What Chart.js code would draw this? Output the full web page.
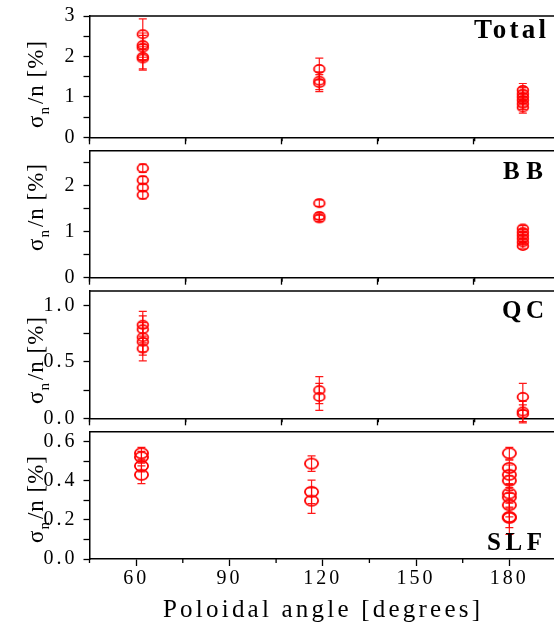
<!DOCTYPE html>
<html>
<head>
<meta charset="utf-8">
<script src="https://cdn.jsdelivr.net/npm/chart.js@4.4.0/dist/chart.umd.min.js"></script>
<style>
html, body { margin: 0; padding: 0; background: #fff; overflow: hidden; }
#wrap { position: relative; width: 554px; height: 631px; overflow: hidden; }
#wrap canvas { position: absolute; left: 0; top: 0; }
</style>
</head>
<body>
<div id="wrap">
  <canvas id="pTotal" width="580" height="631"></canvas>
  <canvas id="pBB" width="580" height="631"></canvas>
  <canvas id="pQC" width="580" height="631"></canvas>
  <canvas id="pSLF" width="580" height="631"></canvas>
</div>
<script>
// poloidal angles of the three views
const totalAngle = [61.6, 61.6, 61.6, 61.6, 61.6, 116.6, 116.6, 116.6, 180, 180, 180, 180, 180, 180];
const totalValue = [2.55, 2.28, 2.22, 1.99, 1.95, 1.69, 1.40, 1.34, 1.17, 1.08, 1.00, 0.92, 0.83, 0.74];
const totalError = [0.38, 0.30, 0.30, 0.30, 0.29, 0.27, 0.22, 0.21, 0.16, 0.15, 0.15, 0.15, 0.14, 0.14];

const bbAngle = [61.6, 61.6, 61.6, 61.6, 116.6, 116.6, 116.6, 180, 180, 180, 180, 180, 180];
const bbValue = [2.38, 2.12, 1.96, 1.80, 1.62, 1.34, 1.29, 1.07, 0.99, 0.92, 0.85, 0.77, 0.69];
const bbError = [0.09, 0.08, 0.08, 0.09, 0.07, 0.07, 0.07, 0.06, 0.06, 0.06, 0.06, 0.05, 0.05];

const qcAngle = [61.6, 61.6, 61.6, 61.6, 61.6, 116.6, 116.6, 180, 180, 180];
const qcValue = [0.83, 0.79, 0.72, 0.68, 0.62, 0.25, 0.19, 0.19, 0.06, 0.04];
const qcError = [0.12, 0.12, 0.13, 0.12, 0.11, 0.12, 0.12, 0.12, 0.09, 0.08];

const slfAngle = [61.7, 61.7, 61.7, 61.7, 116.4, 116.4, 116.4, 180, 180, 180, 180, 180, 180, 180, 180, 180];
const slfValue = [0.54, 0.52, 0.475, 0.43, 0.487, 0.343, 0.298, 0.54, 0.465, 0.43, 0.40, 0.335, 0.315, 0.275, 0.215, 0.21];
const slfError = [0.03, 0.03, 0.03, 0.045, 0.04, 0.06, 0.065, 0.03, 0.04, 0.05, 0.05, 0.05, 0.05, 0.06, 0.09, 0.05];

const xTitle = 'Poloidal angle [degrees]';

const FONT = '"Liberation Serif", "Times New Roman", serif';
const RED = '#ff0000';
const H = 631;

Chart.defaults.font.family = FONT;
Chart.defaults.font.size = 20;
Chart.defaults.color = '#000';

// open elliptic marker, like the origin circles
function ellipseMarker(w, h) {
    const c = document.createElement('canvas');
    c.width = w + 4;
    c.height = h + 4;
    const g = c.getContext('2d');
    g.strokeStyle = RED;
    g.lineWidth = 1.8;
    g.beginPath();
    g.ellipse(c.width / 2, c.height / 2, w / 2 - 0.9, h / 2 - 0.9, 0, 0, Math.PI * 2);
    g.stroke();
    return c;
}

const errorBars = {
    id: 'errorBars',
    afterDatasetsDraw(chart) {
        const ctx = chart.ctx;
        const ys = chart.scales.y;
        chart.data.datasets.forEach((ds, di) => {
            const meta = chart.getDatasetMeta(di);
            ctx.save();
            ctx.strokeStyle = 'rgba(255,0,0,0.9)';
            ctx.lineWidth = 1.2;
            meta.data.forEach((pt, i) => {
                const v = ds.data[i].y, e = ds.errors[i];
                const y1 = ys.getPixelForValue(v + e);
                const y2 = ys.getPixelForValue(v - e);
                ctx.beginPath();
                ctx.moveTo(pt.x, y1); ctx.lineTo(pt.x, y2);
                ctx.moveTo(pt.x - 4, y1); ctx.lineTo(pt.x + 4, y1);
                ctx.moveTo(pt.x - 4, y2); ctx.lineTo(pt.x + 4, y2);
                ctx.stroke();
            });
            ctx.restore();
        });
    }
};

// short minor ticks on the x axis, every 15 degrees between the majors
const minorTicks = {
    id: 'minorTicks',
    afterDraw(chart) {
        const xs = chart.scales.x;
        const ctx = chart.ctx;
        const bottom = chart.chartArea.bottom;
        ctx.save();
        ctx.strokeStyle = '#000';
        ctx.lineWidth = 1.3;
        ctx.beginPath();
        for (let v = 45; v <= xs.max; v += 30) {
            const px = xs.getPixelForValue(v);
            ctx.moveTo(px, bottom);
            ctx.lineTo(px, bottom + 4);
        }
        ctx.stroke();
        ctx.restore();
    }
};

const spacing = {
    id: 'spacing',
    beforeDraw(chart) { chart.ctx.letterSpacing = '3px'; }
};

function drawSpaced(ctx, text, x, y, width) {
    ctx.letterSpacing = '0px';
    const natural = ctx.measureText(text).width;
    const gap = (width - natural) / (text.length - 1);
    ctx.letterSpacing = gap + 'px';
    ctx.textAlign = 'left';
    ctx.fillText(text, x, y);
}

function decor(p) {
    return {
        id: 'decor',
        afterDraw(chart) {
            const ctx = chart.ctx;
            const a = chart.chartArea;
            ctx.save();
            // top and right frame lines
            ctx.strokeStyle = '#000';
            ctx.lineWidth = 1.5;
            ctx.beginPath();
            ctx.moveTo(a.left, a.top); ctx.lineTo(a.right, a.top); ctx.lineTo(a.right, a.bottom);
            ctx.stroke();

            ctx.fillStyle = '#000';
            ctx.textBaseline = 'alphabetic';
            // panel name
            ctx.font = 'bold ' + p.nameSize + 'px ' + FONT;
            drawSpaced(ctx, p.name, p.nameX, p.nameY, p.nameW);

            // y title  sigma_n / n [%]
            ctx.letterSpacing = '1px';
            ctx.translate(43, p.titleY);
            ctx.rotate(-Math.PI / 2);
            const big = '23px ' + FONT, small = '15px ' + FONT;
            ctx.font = big;
            const w1 = ctx.measureText('σ').width;
            const w3 = ctx.measureText('/n [%]').width;
            ctx.font = small;
            const w2 = ctx.measureText('n').width + 2;
            let x = -(w1 + w2 + w3) / 2;
            ctx.textAlign = 'left';
            ctx.font = big;
            ctx.fillText('σ', x, 0);
            x += w1;
            ctx.font = small;
            ctx.fillText('n', x, 6);
            x += w2;
            ctx.font = big;
            ctx.fillText('/n [%]', x, 0);
            ctx.restore();

            if (p.showX) {
                ctx.save();
                ctx.fillStyle = '#000';
                ctx.font = '25px ' + FONT;
                drawSpaced(ctx, xTitle, 163, 617, 317);
                ctx.restore();
            }
        }
    };
}

function panel(id, angle, value, error, p) {
    const xh = p.showX ? 42 : 7;
    return new Chart(document.getElementById(id), {
        type: 'scatter',
        data: {
            datasets: [{
                data: angle.map((a, i) => ({ x: a, y: value[i] })),
                errors: error,
                pointStyle: p.marker,
                pointRadius: 6,
                borderColor: RED,
                backgroundColor: 'transparent'
            }]
        },
        options: {
            responsive: false,
            animation: false,
            devicePixelRatio: 1,
            events: [],
            layout: { padding: { left: 0, right: 10, top: p.top, bottom: H - p.bottom - xh } },
            plugins: { legend: { display: false }, tooltip: { enabled: false } },
            scales: {
                x: {
                    type: 'linear',
                    min: p.xmin,
                    max: p.xmax,
                    afterFit: s => { s.height = xh; },
                    ticks: {
                        display: p.showX,
                        stepSize: 30,
                        includeBounds: false,
                        autoSkip: false,
                        maxRotation: 0,
                        padding: 3,
                        font: { size: 20, lineHeight: 1 }
                    },
                    grid: { drawOnChartArea: false, tickLength: 7, tickWidth: 1.3, color: '#000' },
                    border: { color: '#000', width: 1.5 }
                },
                y: {
                    min: 0,
                    max: p.ymax,
                    afterFit: s => { s.width = 89.5; },
                    ticks: {
                        stepSize: p.step,
                        autoSkip: false,
                        includeBounds: false,
                        padding: 6,
                        font: { size: 20, lineHeight: 1 },
                        callback: v => {
                            const k = v / p.major;
                            return Math.abs(k - Math.round(k)) < 1e-6 ? v.toFixed(p.decimals) : '';
                        }
                    },
                    grid: { drawOnChartArea: false, tickLength: 6, tickWidth: 1.3, color: '#000' },
                    border: { color: '#000', width: 1.5 }
                }
            }
        },
        plugins: [spacing, errorBars, minorTicks, decor(p)]
    });
}

const smallMark = ellipseMarker(12.5, 10);
const bigMark = ellipseMarker(15, 12);

panel('pTotal', totalAngle, totalValue, totalError, {
    top: 10, bottom: 137.3, xmin: 45, xmax: 194.7, ymax: 3, step: 0.5, major: 1, decimals: 0,
    name: 'Total', nameSize: 27, nameX: 474, nameY: 38, nameW: 72, titleY: 84, marker: smallMark, showX: false
});
panel('pBB', bbAngle, bbValue, bbError, {
    top: 150.7, bottom: 277.7, xmin: 45, xmax: 194.7, ymax: 2.76, step: 0.5, major: 1, decimals: 0,
    name: 'BB', nameSize: 25, nameX: 503, nameY: 179, nameW: 40, titleY: 207, marker: smallMark, showX: false
});
panel('pQC', qcAngle, qcValue, qcError, {
    top: 291, bottom: 418.3, xmin: 45, xmax: 194.7, ymax: 1.13, step: 0.25, major: 0.5, decimals: 1,
    name: 'QC', nameSize: 25, nameX: 502, nameY: 318, nameW: 42, titleY: 360, marker: smallMark, showX: false
});
panel('pSLF', slfAngle, slfValue, slfError, {
    top: 431.7, bottom: 559, xmin: 45, xmax: 199.5, ymax: 0.65, step: 0.1, major: 0.2, decimals: 1,
    name: 'SLF', nameSize: 25, nameX: 487, nameY: 550, nameW: 55, titleY: 499, marker: bigMark, showX: true
});
</script>
</body>
</html>
